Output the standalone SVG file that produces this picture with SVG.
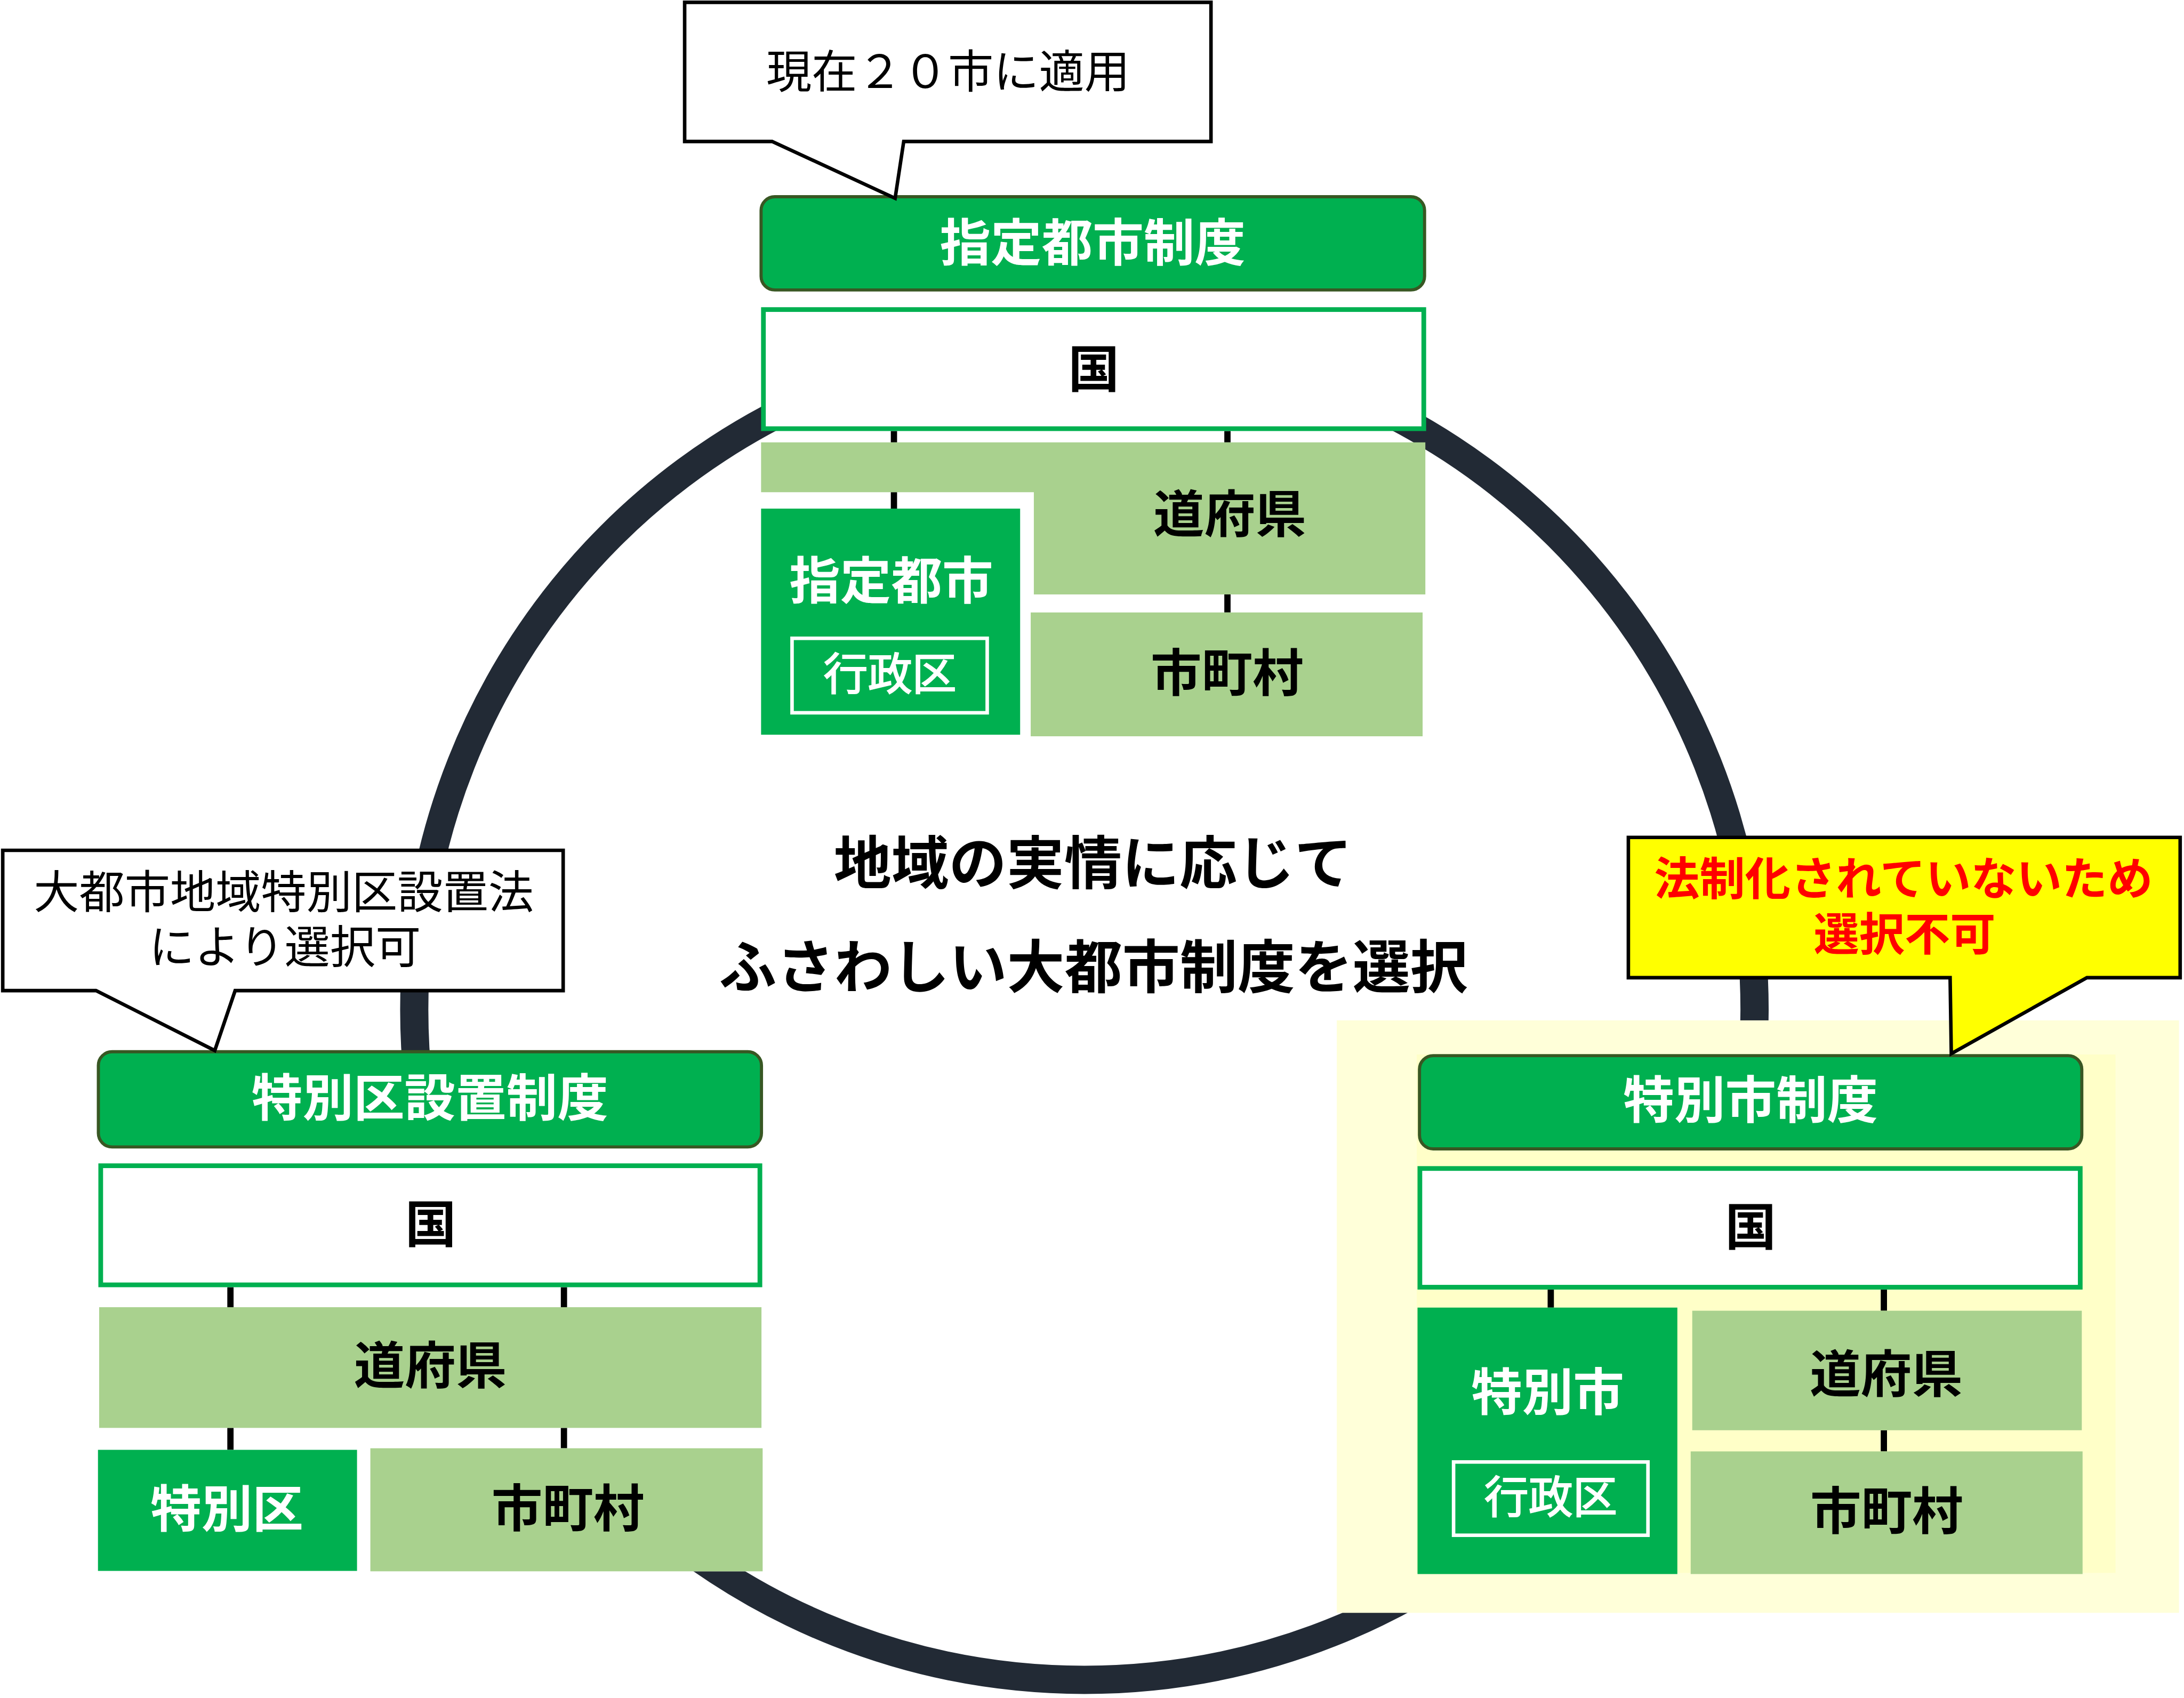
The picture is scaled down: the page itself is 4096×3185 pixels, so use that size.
<svg xmlns="http://www.w3.org/2000/svg" width="4096" height="3185" viewBox="0 0 4096 3185">
<style>
text{font-family:"Noto Sans CJK JP","Noto Sans CJK SC",sans-serif;text-anchor:middle}
.hdr{fill:#00B050;stroke:#385723;stroke-width:8}
.hdrT{fill:#fff;font-weight:bold;font-size:130px}
.kuni{fill:#fff;stroke:#00B050;stroke-width:12}
.lg{fill:#A9D18E}
.dg{fill:#00B050}
.bT{fill:#000;font-weight:bold;font-size:130px}
.wT{fill:#fff;font-weight:bold;font-size:130px}
.gyo{fill:none;stroke:#fff;stroke-width:9}
.gyoT{fill:#fff;font-size:113px;stroke:#fff;stroke-width:3}
.call{fill:#fff;stroke:#000;stroke-width:9}
.callT{fill:#000;font-size:116px}
.conn line{stroke:#000;stroke-width:16}
.ctr{fill:#000;font-weight:bold;font-size:147px}
</style>
<g transform="scale(0.735)">
<rect width="5572" height="4333" fill="#fff"/>
<circle id="ring" cx="2767" cy="2577" r="1710" fill="none" stroke="#222A35" stroke-width="72"/>
<g id="highlight">
<rect x="3411" y="2604" width="2149" height="1512" fill="#FFFFD9"/>
<rect x="3615" y="2691" width="1783" height="1323" fill="#FFFFC8"/>
</g>
<rect id="left-backing" x="247" y="2690" width="1703" height="1320" fill="#fff"/>
<g id="connectors" class="conn">
<line x1="2281" y1="1100" x2="2281" y2="1129"/>
<line x1="2281" y1="1256" x2="2281" y2="1298"/>
<line x1="3132" y1="1100" x2="3132" y2="1129"/>
<line x1="3132" y1="1517" x2="3132" y2="1563"/>
<line x1="588" y1="3285" x2="588" y2="3336"/>
<line x1="588" y1="3644" x2="588" y2="3700"/>
<line x1="1439" y1="3285" x2="1439" y2="3336"/>
<line x1="1439" y1="3644" x2="1439" y2="3696"/>
<line x1="3957" y1="3291" x2="3957" y2="3337"/>
<line x1="4807" y1="3291" x2="4807" y2="3345"/>
<line x1="4807" y1="3650" x2="4807" y2="3704"/>
</g>
<g id="node-shitei">
<rect class="hdr" x="1942" y="502" width="1693" height="238" rx="35"/>
<text class="hdrT" x="2788" y="667">指定都市制度</text>
<rect class="kuni" x="1948" y="790" width="1685" height="304"/>
<text class="bT" x="2791" y="989">国</text>
<polygon class="lg" points="1942,1129 3637,1129 3637,1517 2638,1517 2638,1256 1942,1256"/>
<text class="bT" x="3138" y="1359">道府県</text>
<rect class="dg" x="1942" y="1298" width="661" height="577"/>
<text class="wT" x="2274" y="1529">指定都市</text>
<rect class="gyo" x="2021" y="1629" width="498" height="190"/>
<text class="gyoT" x="2271" y="1761">行政区</text>
<rect class="lg" x="2630" y="1563" width="1000" height="316"/>
<text class="bT" x="3131" y="1764">市町村</text>
</g>
<g id="node-tokubetsuku">
<rect class="hdr" x="251" y="2684" width="1692" height="243" rx="35"/>
<text class="hdrT" x="1097" y="2849">特別区設置制度</text>
<rect class="kuni" x="257" y="2975" width="1682" height="304"/>
<text class="bT" x="1099" y="3171">国</text>
<rect class="lg" x="253" y="3336" width="1690" height="308"/>
<text class="bT" x="1098" y="3532">道府県</text>
<rect class="dg" x="250" y="3700" width="661" height="309"/>
<text class="wT" x="579" y="3898">特別区</text>
<rect class="lg" x="945" y="3696" width="1001" height="314"/>
<text class="bT" x="1449" y="3896">市町村</text>
</g>
<g id="node-tokubetsushi">
<rect class="hdr" x="3622" y="2694" width="1690" height="238" rx="35"/>
<text class="hdrT" x="4467" y="2855">特別市制度</text>
<rect class="kuni" x="3623" y="2982" width="1685" height="303"/>
<text class="bT" x="4467" y="3178">国</text>
<rect class="dg" x="3617" y="3337" width="663" height="680"/>
<text class="wT" x="3949" y="3600">特別市</text>
<rect class="gyo" x="3709" y="3731" width="496" height="187"/>
<text class="gyoT" x="3957" y="3861">行政区</text>
<rect class="lg" x="4318" y="3345" width="994" height="305"/>
<text class="bT" x="4813" y="3554">道府県</text>
<rect class="lg" x="4314" y="3704" width="1000" height="313"/>
<text class="bT" x="4814" y="3903">市町村</text>
</g>
<g id="callout-top">
<path class="call" d="M1747,6 H3090 V361 H2306 L2284,506 L1970,361 H1747 Z"/>
<text class="callT" x="2419" y="225">現在２０市に適用</text>
</g>
<g id="callout-left">
<path class="call" d="M7,2170 H1437 V2528 H600 L548,2681 L245,2528 H7 Z"/>
<text class="callT" x="724" y="2318">大都市地域特別区設置法</text>
<text class="callT" x="727" y="2459">により選択可</text>
</g>
<g id="callout-right">
<path d="M4155,2137 H5563 V2495 H5325 L4979,2689 L4976,2495 H4155 Z" fill="#FFFF00" stroke="#000" stroke-width="9"/>
<text x="4857" y="2284" fill="#FF0000" font-weight="bold" font-size="116">法制化されていないため</text>
<text x="4860" y="2426" fill="#FF0000" font-weight="bold" font-size="116">選択不可</text>
</g>
<g id="center-label">
<text class="ctr" x="2789" y="2256">地域の実情に応じて</text>
<text class="ctr" x="2790" y="2521">ふさわしい大都市制度を選択</text>
</g>
</g>
</svg>
